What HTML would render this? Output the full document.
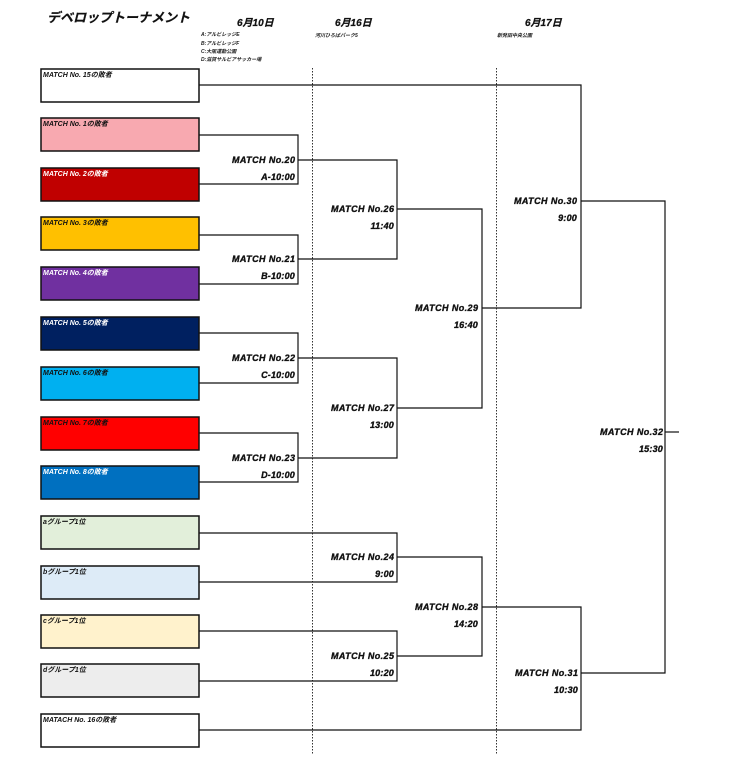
<!DOCTYPE html>
<html><head><meta charset="utf-8"><style>
html,body{margin:0;padding:0;background:#fff;}
svg{display:block;}
.t{font-family:"Liberation Sans","Noto Sans CJK JP",sans-serif;font-weight:bold;font-style:italic;}
.m{font-size:9px;fill:#111;stroke:#111;stroke-width:0.35;text-anchor:end;}
.bl{font-size:7px;}
.sm{font-size:5px;fill:#222;}
</style></head><body>
<svg width="740" height="780" viewBox="0 0 740 780" xmlns="http://www.w3.org/2000/svg">
<!-- header -->
<text class="t" x="47" y="22" font-size="13" fill="#111" stroke="#111" stroke-width="0.2">デベロップトーナメント</text>
<text class="t" x="237" y="26" font-size="10" fill="#111" stroke="#111" stroke-width="0.25">6月10日</text>
<text class="t" x="335" y="26" font-size="10" fill="#111" stroke="#111" stroke-width="0.25">6月16日</text>
<text class="t" x="525" y="26" font-size="10" fill="#111" stroke="#111" stroke-width="0.25">6月17日</text>
<text class="t sm" x="201" y="36">A:アルビレッジE</text>
<text class="t sm" x="201" y="45">B:アルビレッジF</text>
<text class="t sm" x="201" y="53">C:大阪運動公園</text>
<text class="t sm" x="201" y="61">D:滋賀サルビアサッカー場</text>
<text class="t sm" x="315" y="37">河川ひろばパーク5</text>
<text class="t sm" x="497" y="37">新発田中央公園</text>

<!-- dotted separators -->
<line x1="312.5" y1="68" x2="312.5" y2="755" stroke="#333" stroke-width="1" stroke-dasharray="1.5,1.5"/>
<line x1="496.5" y1="68" x2="496.5" y2="755" stroke="#333" stroke-width="1" stroke-dasharray="1.5,1.5"/>

<!-- boxes -->
<g stroke="#111" stroke-width="1.5">
<rect x="41" y="69" width="158" height="33" fill="#ffffff"/>
<rect x="41" y="118" width="158" height="33" fill="#F8A9B0"/>
<rect x="41" y="168" width="158" height="33" fill="#C00000"/>
<rect x="41" y="217" width="158" height="33" fill="#FFC000"/>
<rect x="41" y="267" width="158" height="33" fill="#7030A0"/>
<rect x="41" y="317" width="158" height="33" fill="#002060"/>
<rect x="41" y="367" width="158" height="33" fill="#00B0F0"/>
<rect x="41" y="417" width="158" height="33" fill="#FF0000"/>
<rect x="41" y="466" width="158" height="33" fill="#0070C0"/>
<rect x="41" y="516" width="158" height="33" fill="#E2EFDA"/>
<rect x="41" y="566" width="158" height="33" fill="#DDEBF7"/>
<rect x="41" y="615" width="158" height="33" fill="#FFF2CC"/>
<rect x="41" y="664" width="158" height="33" fill="#EDEDED"/>
<rect x="41" y="714" width="158" height="33" fill="#ffffff"/>
</g>
<g class="t bl">
<text x="43" y="77" fill="#111">MATCH No. 15の敗者</text>
<text x="43" y="126" fill="#111">MATCH No. 1の敗者</text>
<text x="43" y="176" fill="#fff">MATCH No. 2の敗者</text>
<text x="43" y="225" fill="#111">MATCH No. 3の敗者</text>
<text x="43" y="275" fill="#fff">MATCH No. 4の敗者</text>
<text x="43" y="325" fill="#fff">MATCH No. 5の敗者</text>
<text x="43" y="375" fill="#111">MATCH No. 6の敗者</text>
<text x="43" y="425" fill="#111">MATCH No. 7の敗者</text>
<text x="43" y="474" fill="#fff">MATCH No. 8の敗者</text>
<text x="43" y="524" fill="#111">aグループ1位</text>
<text x="43" y="574" fill="#111">bグループ1位</text>
<text x="43" y="623" fill="#111">cグループ1位</text>
<text x="43" y="672" fill="#111">dグループ1位</text>
<text x="43" y="722" fill="#111">MATACH No. 16の敗者</text>
</g>

<!-- bracket lines -->
<g stroke="#111" stroke-width="1.2" fill="none">
<polyline points="199,135 298,135 298,184 199,184"/>
<polyline points="199,235 298,235 298,284 199,284"/>
<polyline points="199,333 298,333 298,383 199,383"/>
<polyline points="199,433 298,433 298,482 199,482"/>
<polyline points="199,533 397,533 397,582 199,582"/>
<polyline points="199,631 397,631 397,681 199,681"/>
<polyline points="298,160 397,160 397,259 298,259"/>
<polyline points="298,358 397,358 397,458 298,458"/>
<polyline points="397,209 482,209 482,408 397,408"/>
<polyline points="397,557 482,557 482,656 397,656"/>
<polyline points="199,85 581,85 581,308 482,308"/>
<polyline points="482,607 581,607 581,730 199,730"/>
<polyline points="581,201 665,201 665,673 581,673"/>
<line x1="665" y1="432" x2="679" y2="432"/>
</g>

<!-- match labels -->
<g class="t m">
<text x="295" y="163" textLength="63">MATCH No.20</text>
<text x="295" y="180" letter-spacing="0.2">A-10:00</text>
<text x="295" y="262" textLength="63">MATCH No.21</text>
<text x="295" y="279" letter-spacing="0.2">B-10:00</text>
<text x="295" y="361" textLength="63">MATCH No.22</text>
<text x="295" y="378" letter-spacing="0.2">C-10:00</text>
<text x="295" y="461" textLength="63">MATCH No.23</text>
<text x="295" y="478" letter-spacing="0.2">D-10:00</text>

<text x="394" y="212" textLength="63">MATCH No.26</text>
<text x="394" y="229" letter-spacing="0.2">11:40</text>
<text x="394" y="411" textLength="63">MATCH No.27</text>
<text x="394" y="428" letter-spacing="0.2">13:00</text>
<text x="394" y="560" textLength="63">MATCH No.24</text>
<text x="394" y="577" letter-spacing="0.2">9:00</text>
<text x="394" y="659" textLength="63">MATCH No.25</text>
<text x="394" y="676" letter-spacing="0.2">10:20</text>

<text x="478" y="311" textLength="63">MATCH No.29</text>
<text x="478" y="328" letter-spacing="0.2">16:40</text>
<text x="478" y="610" textLength="63">MATCH No.28</text>
<text x="478" y="627" letter-spacing="0.2">14:20</text>

<text x="577" y="204" textLength="63">MATCH No.30</text>
<text x="577" y="221" letter-spacing="0.2">9:00</text>
<text x="578" y="676" textLength="63">MATCH No.31</text>
<text x="578" y="693" letter-spacing="0.2">10:30</text>

<text x="663" y="435" textLength="63">MATCH No.32</text>
<text x="663" y="452" letter-spacing="0.2">15:30</text>
</g>
</svg>
</body></html>
